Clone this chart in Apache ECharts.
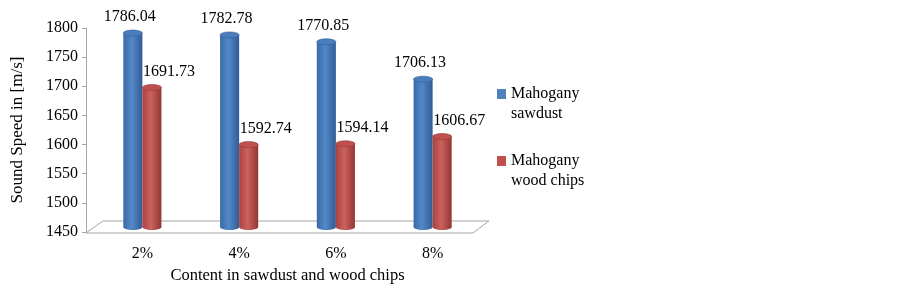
<!DOCTYPE html>
<html>
<head>
<meta charset="utf-8">
<script src="https://cdn.jsdelivr.net/npm/echarts@6/dist/echarts.min.js"></script>
<style>
html, body { margin: 0; padding: 0; background: #fff; }
#box { width: 902px; height: 286px; }
</style>
</head>
<body>
<div id="box"></div>
<script>
var categories = ['2%', '4%', '6%', '8%'];
var sawdust = [1786.04, 1782.78, 1770.85, 1706.13];
var woodChips = [1691.73, 1592.74, 1594.14, 1606.67];
var yMin = 1450, yMax = 1800, yStep = 50;
var seriesNames = ['Mahogany\nsawdust', 'Mahogany\nwood chips'];

var font = 'Liberation Serif';
var gridLeft = 94, gridWidth = 387;
var axisTop = 28, axisHeight = 204;

// colours of the cylinders: left edge, middle, right edge, top
var blue = { l: '#3b6aa6', m: '#5289c9', r: '#325b93', top: '#4a7dbb', edge: '#35619a', legend: '#4f81bd' };
var red = { l: '#a94340', m: '#cc615d', r: '#923634', top: '#c0504d', edge: '#973a37', legend: '#c0504d' };

function toPairs(values) {
	return values.map(function (v, i) {
		return [i, v];
	});
}

function cylinder(c, side, labelDx) {
	return function (params, api) {
		var cat = api.value(0);
		var val = api.value(1);
		var top = api.coord([cat, val]);
		var base = api.coord([cat, yMin]);
		var w = api.size([1, 0])[0] * 0.197;
		var x0 = side < 0 ? top[0] - w : top[0];
		var cx = x0 + w / 2;
		var ry = 3;
		var grad = new echarts.graphic.LinearGradient(0, 0, 1, 0, [
			{ offset: 0, color: c.l },
			{ offset: 0.45, color: c.m },
			{ offset: 1, color: c.r }
		]);
		return {
			type: 'group',
			children: [
				{ type: 'rect', shape: { x: x0, y: top[1], width: w, height: base[1] - top[1] }, style: { fill: grad } },
				{ type: 'ellipse', shape: { cx: cx, cy: base[1], rx: w / 2, ry: ry }, style: { fill: grad } },
				{ type: 'ellipse', shape: { cx: cx, cy: top[1], rx: w / 2, ry: ry }, style: { fill: c.top, stroke: c.edge, lineWidth: 0.6 } },
				{
					type: 'text',
					x: cx + labelDx,
					y: top[1] - ry - 5,
					style: {
						text: val.toFixed(2),
						textAlign: 'center',
						textVerticalAlign: 'bottom',
						font: '16px "' + font + '"',
						fill: '#000'
					}
				}
			]
		};
	};
}

var myChart = echarts.init(document.getElementById('box'));

var option = {
	animation: false,
	backgroundColor: '#fff',
	textStyle: { fontFamily: font },
	grid: [
		{ left: gridLeft, width: gridWidth, top: axisTop, height: axisHeight, outerBoundsMode: 'none' },
		{ left: gridLeft, width: gridWidth, top: 25, height: 202, outerBoundsMode: 'none' }
	],
	legend: {
		orient: 'vertical',
		left: 497,
		top: 64,
		padding: 0,
		itemWidth: 9,
		itemHeight: 10,
		itemGap: 7,
		icon: 'rect',
		// blank first line so the square sits beside the first word
		formatter: function (name) {
			return ' \n' + name;
		},
		textStyle: { fontFamily: font, fontSize: 16, color: '#000', lineHeight: 20 },
		data: [
			{ name: seriesNames[0], itemStyle: { color: blue.legend } },
			{ name: seriesNames[1], itemStyle: { color: red.legend } }
		]
	},
	xAxis: [{
			gridIndex: 0,
			type: 'category',
			data: categories,
			axisLine: { show: false },
			axisTick: { show: false },
			axisLabel: { margin: 14, fontFamily: font, fontSize: 16, color: '#000' },
			name: 'Content in sawdust and wood chips',
			nameLocation: 'middle',
			nameGap: 34,
			nameTextStyle: { fontFamily: font, fontSize: 16.5, color: '#000' }
		},
		{
			gridIndex: 1,
			type: 'category',
			data: categories,
			show: false
		}
	],
	yAxis: [{
			gridIndex: 0,
			type: 'value',
			min: yMin,
			max: yMax,
			interval: yStep,
			offset: 8,
			axisLine: { show: true, lineStyle: { color: '#a6a6a6' } },
			axisTick: { show: true, length: 4, lineStyle: { color: '#a6a6a6' } },
			splitLine: { show: false },
			axisLabel: {
				margin: 8,
				fontFamily: font,
				fontSize: 16,
				color: '#000',
				formatter: function (v) {
					return String(v);
				}
			},
			name: 'Sound Speed in [m/s]',
			nameLocation: 'middle',
			nameRotate: 90,
			nameGap: 60,
			nameTextStyle: { fontFamily: font, fontSize: 17, color: '#000' }
		},
		{
			gridIndex: 1,
			type: 'value',
			min: yMin,
			max: yMax,
			show: false
		}
	],
	graphic: [{
		type: 'polygon',
		z: 0,
		shape: {
			points: [
				[gridLeft - 8, axisTop + axisHeight + 1],
				[gridLeft + 9, axisTop + axisHeight - 11],
				[gridLeft + gridWidth + 8, axisTop + axisHeight - 11],
				[gridLeft + gridWidth - 8, axisTop + axisHeight + 1]
			]
		},
		style: { fill: '#fff', stroke: '#a6a6a6', lineWidth: 1 }
	}],
	series: [{
			name: seriesNames[0],
			type: 'custom',
			xAxisIndex: 1,
			yAxisIndex: 1,
			z: 5,
			itemStyle: { color: blue.legend },
			encode: { x: 0, y: 1 },
			renderItem: cylinder(blue, -1, -3),
			data: toPairs(sawdust)
		},
		{
			name: seriesNames[1],
			type: 'custom',
			xAxisIndex: 1,
			yAxisIndex: 1,
			z: 5,
			itemStyle: { color: red.legend },
			encode: { x: 0, y: 1 },
			renderItem: cylinder(red, 1, 17),
			data: toPairs(woodChips)
		}
	]
};

myChart.setOption(option, true);
</script>
</body>
</html>
